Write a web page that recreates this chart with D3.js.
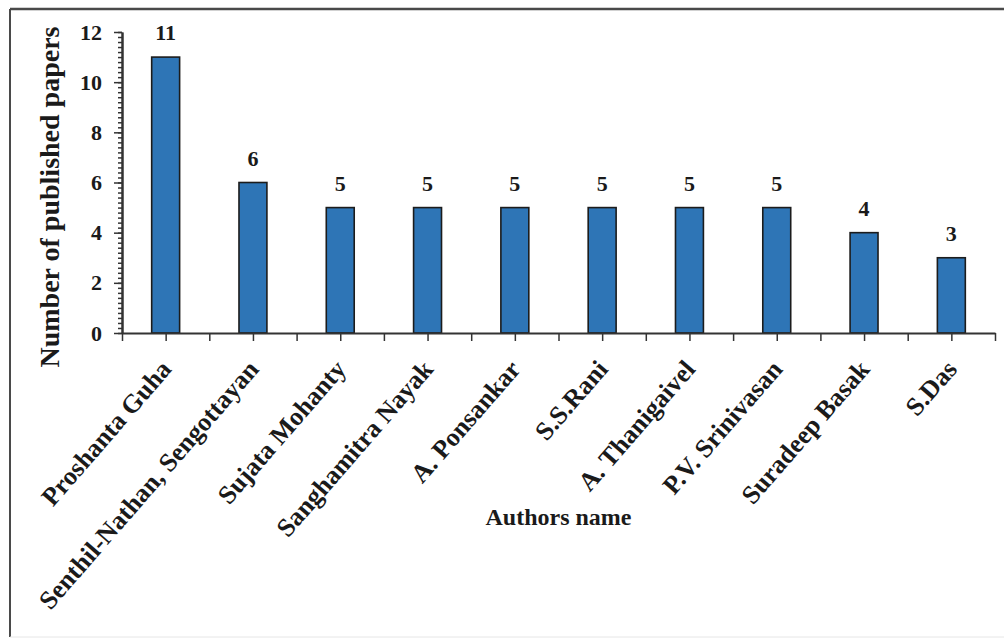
<!DOCTYPE html>
<html>
<head>
<meta charset="utf-8">
<script src="https://cdn.jsdelivr.net/npm/d3@7"></script>
<style>
  html, body { margin: 0; padding: 0; background: #fff; }
  svg { display: block; }
  text { font-family: "Liberation Serif", "Times New Roman", serif; font-weight: bold; fill: #1a1a1a; }
</style>
</head>
<body>
<script>
// Authors and their number of published papers
const authors = [
  "Proshanta Guha",
  "Senthil-Nathan, Sengottayan",
  "Sujata Mohanty",
  "Sanghamitra Nayak",
  "A. Ponsankar",
  "S.S.Rani",
  "A. Thanigaivel",
  "P.V. Srinivasan",
  "Suradeep Basak",
  "S.Das"
];
const papers = [11, 6, 5, 5, 5, 5, 5, 5, 4, 3];
const yTicks = [0, 2, 4, 6, 8, 10, 12];
const xTitle = "Authors name";
const yTitle = "Number of published papers";

const W = 1004, H = 638;
const plotLeft = 122, plotRight = 995, plotTop = 32, plotBottom = 333;

const svg = d3.select("body").append("svg").attr("width", W).attr("height", H);

// outer chart frame
svg.append("line").attr("x1", 10).attr("x2", W).attr("y1", 9).attr("y2", 9)
  .attr("stroke", "#4a4a4a").attr("stroke-width", 2.5);
svg.append("line").attr("x1", 10).attr("x2", 10).attr("y1", 9).attr("y2", 637)
  .attr("stroke", "#4a4a4a").attr("stroke-width", 2);
svg.append("line").attr("x1", 10).attr("x2", W).attr("y1", 637).attr("y2", 637)
  .attr("stroke", "#e6e6e6").attr("stroke-width", 1);

const x = d3.scaleBand().domain(authors).range([plotLeft, plotRight])
  .paddingInner(0.68).paddingOuter(0.34);
const y = d3.scaleLinear().domain([0, 12]).range([plotBottom, plotTop]);
// positional scale for tick marks at category centres and boundaries
const xt = d3.scaleLinear().domain([0, authors.length]).range([plotLeft, plotRight]);

// bars
svg.append("g").selectAll("rect").data(papers).join("rect")
  .attr("x", (d, i) => x(authors[i]))
  .attr("y", d => y(d))
  .attr("width", x.bandwidth())
  .attr("height", d => y(0) - y(d))
  .attr("fill", "#2e75b6")
  .attr("stroke", "#1c1c1c")
  .attr("stroke-width", 1.6);

// value labels
svg.append("g").selectAll("text").data(papers).join("text")
  .attr("x", (d, i) => x(authors[i]) + x.bandwidth() / 2)
  .attr("y", d => y(d) - 17)
  .attr("text-anchor", "middle")
  .attr("font-size", 22)
  .text(d => d);

// y axis: minor ticks
const yMinor = svg.append("g").attr("transform", `translate(${plotLeft},0)`)
  .call(d3.axisLeft(y).tickValues(d3.range(0, 61).map(v => v / 5)).tickSize(4).tickSizeOuter(0).tickFormat(""));
// y axis: major ticks and labels
const yAxis = svg.append("g").attr("transform", `translate(${plotLeft},0)`)
  .call(d3.axisLeft(y).tickValues(yTicks).tickSize(8).tickSizeOuter(0).tickPadding(12));
[yMinor, yAxis].forEach(g => {
  g.selectAll("line").attr("stroke", "#333").attr("stroke-width", 1.5);
  g.select(".domain").attr("stroke", "#333").attr("stroke-width", 2);
});
yAxis.selectAll("text").attr("font-size", 22).attr("font-family", null).attr("fill", "#1a1a1a");

// x axis with ticks at centres and between categories
const xAxis = svg.append("g").attr("transform", `translate(0,${plotBottom})`)
  .call(d3.axisBottom(xt).tickValues(d3.range(0, authors.length * 2 + 1).map(v => v / 2))
    .tickSize(8).tickSizeOuter(0).tickFormat(""));
xAxis.selectAll("line").attr("stroke", "#333").attr("stroke-width", 1.5);
xAxis.select(".domain").attr("stroke", "#333").attr("stroke-width", 2);

// rotated category labels
svg.append("g").selectAll("text").data(authors).join("text")
  .attr("transform", d => `translate(${x(d) + x.bandwidth() / 2 + 7},${plotBottom + 37}) rotate(-49)`)
  .attr("text-anchor", "end")
  .attr("font-size", 26)
  .text(d => d);

// axis titles
svg.append("text")
  .attr("x", (plotLeft + plotRight) / 2).attr("y", 525)
  .attr("text-anchor", "middle").attr("font-size", 24)
  .text(xTitle);
svg.append("text")
  .attr("transform", "translate(59,197) rotate(-90)")
  .attr("text-anchor", "middle").attr("font-size", 28)
  .text(yTitle);
</script>
</body>
</html>
